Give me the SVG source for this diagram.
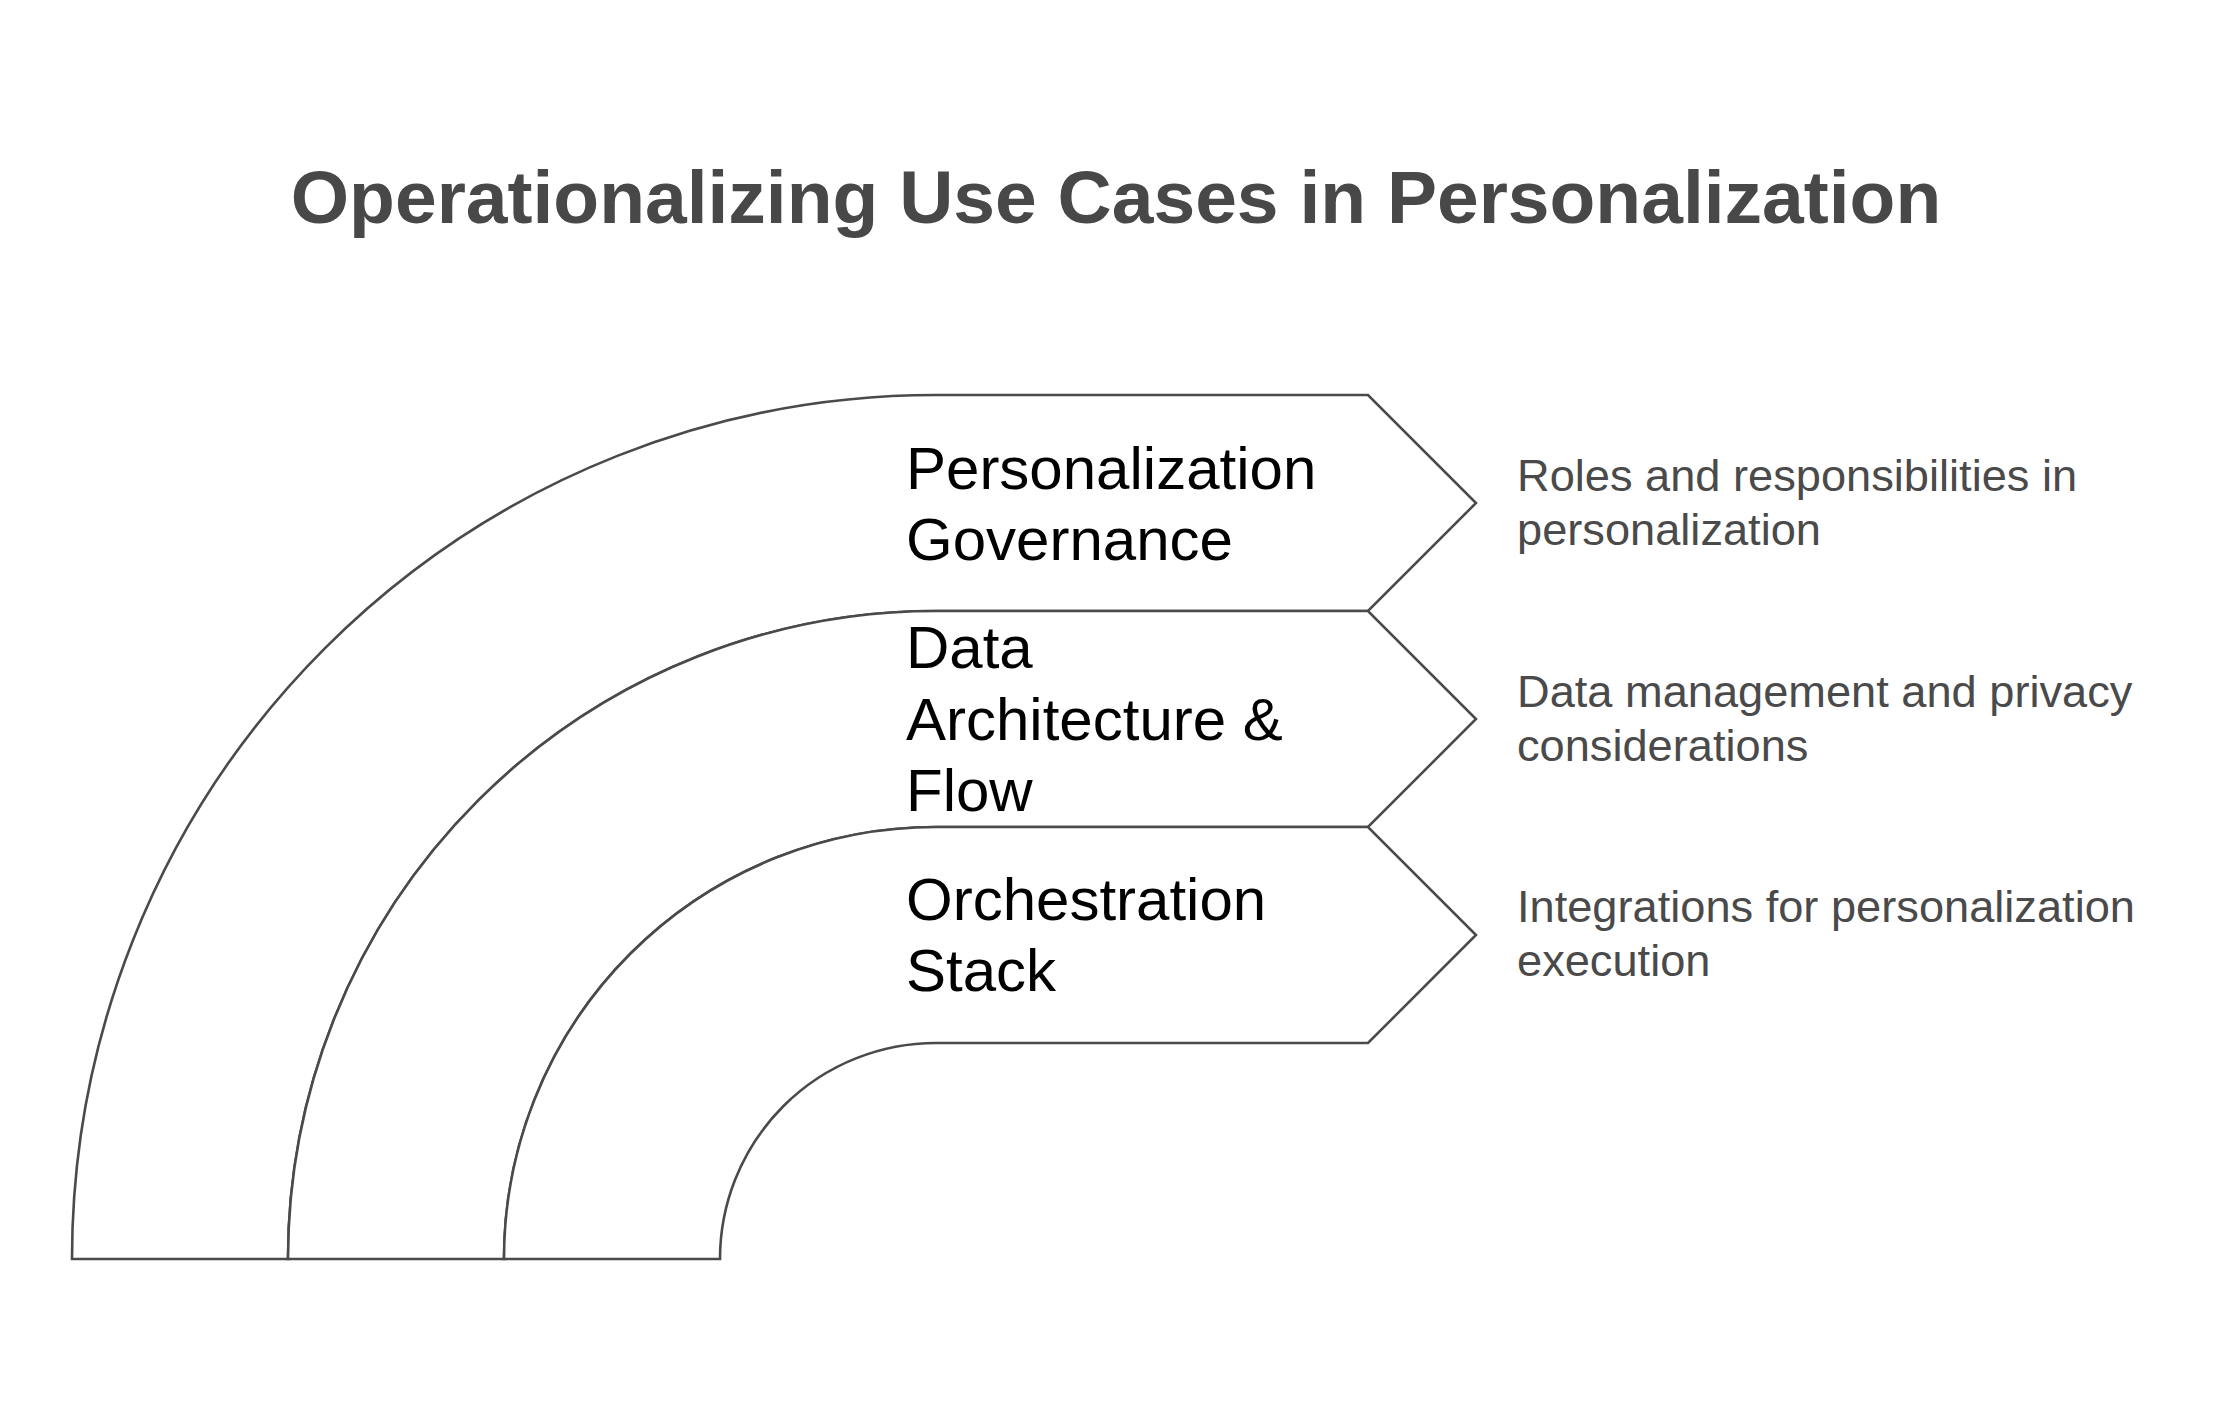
<svg xmlns="http://www.w3.org/2000/svg" width="2232" height="1404" viewBox="0 0 2232 1404">
<style>
.band{fill:#ffffff;stroke:#4a4a4a;stroke-width:2.6;stroke-linejoin:miter}
.title{font-family:"Liberation Sans",Arial,sans-serif;font-weight:bold;font-size:75px;fill:#484848}
.label{font-family:"Liberation Sans",Arial,sans-serif;font-size:60px;fill:#000000}
.desc{font-family:"Liberation Sans",Arial,sans-serif;font-size:45.2px;fill:#4a4a4a}
</style>
<rect x="0" y="0" width="2232" height="1404" fill="#ffffff"/>
<text class="title" x="1116" y="223" text-anchor="middle">Operationalizing Use Cases in Personalization</text>
<g id="connectors"></g>
<g id="node-governance">
<path class="band" d="M 72 1259 A 864 864 0 0 1 936 395 L 1368 395 L 1476 503 L 1368 611 L 936 611 A 648 648 0 0 0 288 1259 Z"/>
<text class="label"><tspan x="906" y="489">Personalization</tspan><tspan x="906" y="560">Governance</tspan></text>
<text class="desc"><tspan x="1517" y="491">Roles and responsibilities in</tspan><tspan x="1517" y="545">personalization</tspan></text>
</g>
<g id="node-data">
<path class="band" d="M 288 1259 A 648 648 0 0 1 936 611 L 1368 611 L 1476 719 L 1368 827 L 936 827 A 432 432 0 0 0 504 1259 Z"/>
<text class="label"><tspan x="906" y="668">Data</tspan><tspan x="906" y="739.5">Architecture &amp;</tspan><tspan x="906" y="811">Flow</tspan></text>
<text class="desc"><tspan x="1517" y="706.5">Data management and privacy</tspan><tspan x="1517" y="760.5">considerations</tspan></text>
</g>
<g id="node-orchestration">
<path class="band" d="M 504 1259 A 432 432 0 0 1 936 827 L 1368 827 L 1476 935 L 1368 1043 L 936 1043 A 216 216 0 0 0 720 1259 Z"/>
<text class="label"><tspan x="906" y="920">Orchestration</tspan><tspan x="906" y="991">Stack</tspan></text>
<text class="desc"><tspan x="1517" y="922">Integrations for personalization</tspan><tspan x="1517" y="976">execution</tspan></text>
</g>
</svg>
